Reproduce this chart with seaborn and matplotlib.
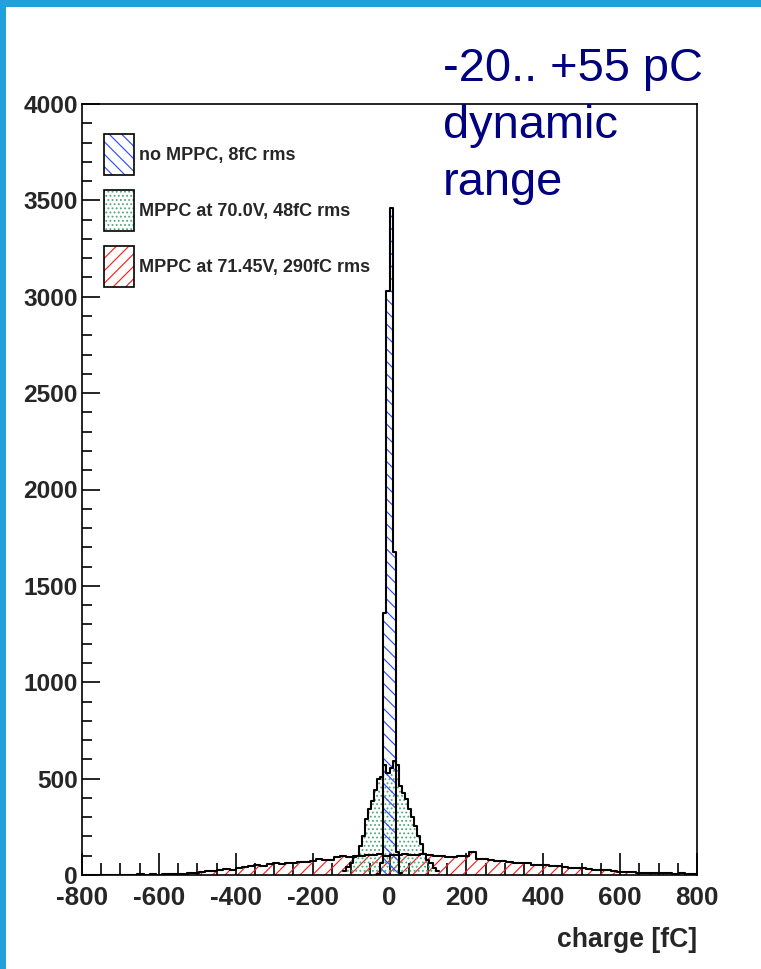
import numpy as np
import pandas as pd
import matplotlib
matplotlib.use("Agg")
import matplotlib.pyplot as plt
from matplotlib.patches import Rectangle, Patch
from matplotlib.ticker import MultipleLocator
from matplotlib.legend_handler import HandlerTuple
import seaborn as sns

# ---------------------------------------------------------------- data
# charge histograms: first bin edge [fC], bin width [fC], bin contents
blue_start, blue_width = -32, 8
blue_counts = [5, 60, 1360, 3030, 3460, 1675, 120, 10]

green_start, green_width = -120, 8
green_counts = [20, 40, 60, 93, 100, 150, 201, 289, 341, 382, 440, 496,
                511, 573, 530, 557, 590, 573, 460, 428, 393, 341, 300, 253,
                201, 160, 108, 80, 60, 35, 20]

red_start, red_width = -800, 16
red_counts = [0, 0, 0, 0, 0, 1, 0, 1, 2, 5,
              2, 3, 2, 5, 6, 4, 6, 8, 12, 18,
              22, 20, 24, 30, 28, 38, 42, 46, 50, 48,
              58, 62, 56, 64, 60, 70, 68, 74, 84, 80,
              78, 92, 96, 94, 100, 98, 104, 102, 108, 100,
              106, 104, 110, 102, 106, 108, 104, 100, 96, 92,
              94, 100, 98, 118, 84, 82, 76, 74, 72, 66,
              64, 62, 60, 54, 52, 50, 46, 48, 40, 36,
              34, 36, 30, 28, 26, 24, 22, 18, 16, 14,
              12, 12, 10, 10, 8, 10, 6, 8, 5, 4]

labels = ["no MPPC, 8fC rms",
          "MPPC at 70.0V, 48fC rms",
          "MPPC at 71.45V, 290fC rms"]
hatch_colors = ["#2a4cff", "#52a97e", "#ff1a1a"]
hatches = ["\\\\\\\\", "......", "////"]

x_label = "charge [fC]"
note_text = "-20.. +55 pC\ndynamic\nrange"

# ---------------------------------------------------------------- figure
DPI = 150
W, H = 761, 969
PT = 72.0 / DPI  # points per pixel

sns.set_theme(style="white")
plt.rcParams["font.family"] = ["Liberation Sans", "DejaVu Sans"]
plt.rcParams["axes.unicode_minus"] = False
plt.rcParams["hatch.linewidth"] = 0.55

fig = plt.figure(figsize=(W / DPI, H / DPI), dpi=DPI)
fig.patch.set_facecolor("white")

# slide frame
fig.add_artist(Rectangle((0, 0), 6 / W, 1, transform=fig.transFigure,
                         facecolor="#21a0db", edgecolor="none"))
fig.add_artist(Rectangle((0, 1 - 7 / H), 1, 7 / H, transform=fig.transFigure,
                         facecolor="#21a0db", edgecolor="none"))

AX_L, AX_R, AX_T, AX_B = 82, 697, 104, 875
ax = fig.add_axes([AX_L / W, (H - AX_B) / H, (AX_R - AX_L) / W, (AX_B - AX_T) / H])
ax.set_facecolor("white")


def hist_frame(start, width, counts):
    counts = np.asarray(counts, dtype=float)
    centers = start + width * (np.arange(len(counts)) + 0.5)
    rng = (float(start), float(start + width * len(counts)))
    return pd.DataFrame({"charge": centers, "n": counts}), float(width), rng


frames = [hist_frame(red_start, red_width, red_counts),
          hist_frame(green_start, green_width, green_counts),
          hist_frame(blue_start, blue_width, blue_counts)]
styles = [(hatches[2], hatch_colors[2]),
          (hatches[1], hatch_colors[1]),
          (hatches[0], hatch_colors[0])]

for (df, bw, rng), (hatch, hcol) in zip(frames, styles):
    # hatched fill
    n_before = len(ax.collections)
    sns.histplot(data=df, x="charge", weights="n", binwidth=bw, binrange=rng,
                 ax=ax, element="step", fill=True, color=hcol, linewidth=0)
    for coll in ax.collections[n_before:]:
        coll.set_facecolor("none")
        coll.set_edgecolor(hcol)
        coll.set_linewidth(0)
        coll.set_hatch(hatch)
    # black outline of the bins
    sns.histplot(data=df, x="charge", weights="n", binwidth=bw, binrange=rng,
                 ax=ax, element="step", fill=False, color="black", linewidth=1.0)

ax.set_xlim(-800, 800)
ax.set_ylim(0, 4000)
ax.set_ylabel("")
ax.set_xlabel(x_label, loc="right", fontsize=26.5 * PT, fontweight="bold",
              labelpad=8)

ax.xaxis.set_major_locator(MultipleLocator(200))
ax.xaxis.set_minor_locator(MultipleLocator(50))
ax.yaxis.set_major_locator(MultipleLocator(500))
ax.yaxis.set_minor_locator(MultipleLocator(100))
ax.tick_params(axis="x", which="major", direction="in", length=22 * PT,
               width=0.8, color="black", labelsize=26 * PT, pad=5.5, bottom=True)
ax.tick_params(axis="x", which="minor", direction="in", length=12 * PT,
               width=0.8, color="black", bottom=True)
ax.tick_params(axis="y", which="major", direction="in", length=18 * PT,
               width=0.8, color="black", labelsize=24.5 * PT, pad=2, left=True)
ax.tick_params(axis="y", which="minor", direction="in", length=10 * PT,
               width=0.8, color="black", left=True)
for lab in ax.get_xticklabels() + ax.get_yticklabels():
    lab.set_fontweight("bold")
for sp in ax.spines.values():
    sp.set_color("black")
    sp.set_linewidth(0.8)

# legend: hatched box with a black frame, no legend border
handles = []
for hatch, hcol in zip(hatches, hatch_colors):
    handles.append((Patch(facecolor="none", edgecolor=hcol, hatch=hatch, linewidth=0),
                    Patch(facecolor="none", edgecolor="black", linewidth=0.8)))
leg = ax.legend(handles, labels, loc="upper left",
                bbox_to_anchor=(22 / (AX_R - AX_L), 1 - 30 / (AX_B - AX_T)),
                frameon=False, borderpad=0, borderaxespad=0,
                handlelength=1.65, handleheight=3.1, handletextpad=0.3,
                labelspacing=0.85,
                handler_map={tuple: HandlerTuple(ndivide=1, pad=0)},
                prop={"size": 18 * PT, "weight": "bold"})

fig.text(443 / W, 1 - 47 / H, note_text, ha="left", va="top",
         color="#000080", fontsize=47 * PT, family="Liberation Sans",
         linespacing=1.38)

fig.savefig("out.png", dpi=DPI, facecolor="white")
